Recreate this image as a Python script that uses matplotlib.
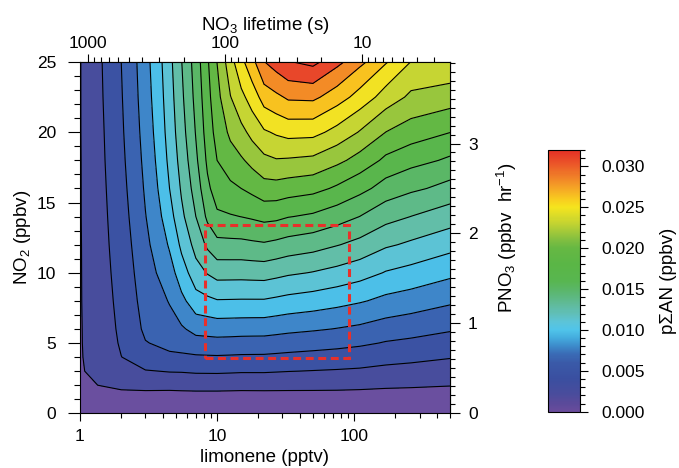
import numpy as np
import matplotlib
matplotlib.use("Agg")
import matplotlib.pyplot as plt
from matplotlib.colors import LinearSegmentedColormap, Normalize
from matplotlib.ticker import MultipleLocator, FixedLocator, NullFormatter, FuncFormatter
from matplotlib.patches import Rectangle
import matplotlib.cm as cm

plt.rcParams['font.family'] = ['Liberation Sans', 'DejaVu Sans']
plt.rcParams['mathtext.fontset'] = 'custom'
plt.rcParams['mathtext.rm'] = 'Liberation Sans'
plt.rcParams['mathtext.it'] = 'Liberation Sans:italic'
plt.rcParams['mathtext.bf'] = 'Liberation Sans:bold'
plt.rcParams['mathtext.default'] = 'regular'

# ---------------- data ----------------
limonene_pptv = [1, 1.5, 2, 3, 4.5, 5.5, 7, 8.5, 10, 12.5, 15, 18, 22, 27, 33, 50, 75,
                 110, 170, 260, 500]
no2_ppbv = [0, 1, 2, 3, 4, 5, 6, 8, 10, 12, 14, 16, 18, 20, 22.5, 25]

# pSigmaAN in pptv, one list per limonene column (rows follow no2_ppbv)
psan_L1 = [0, 0.75, 1.42, 1.49, 1.51, 1.52, 1.52, 1.53, 1.53, 1.53, 1.54, 1.54, 1.54, 1.55, 1.55, 1.55]
psan_L1_5 = [0, 0.80, 1.68, 2.16, 2.40, 2.51, 2.59, 2.70, 2.80, 2.90, 2.98, 3.06, 3.14, 3.20, 3.30, 3.38]
psan_L2 = [0, 0.88, 1.95, 2.75, 3.18, 3.39, 3.52, 3.71, 3.89, 4.05, 4.21, 4.35, 4.48, 4.59, 4.70, 4.80]
psan_L3 = [0, 0.88, 2.05, 3.12, 4.08, 4.72, 5.12, 5.47, 5.76, 6.05, 6.34, 6.61, 6.85, 7.07, 7.30, 7.47]
psan_L4_5 = [0, 0.83, 2.05, 3.28, 4.45, 5.30, 5.80, 6.50, 7.35, 8.20, 9.00, 9.60, 10.00, 10.30, 10.55, 10.77]
psan_L5_5 = [0, 0.84, 2.10, 3.30, 4.50, 5.50, 6.20, 7.60, 8.85, 9.95, 10.85, 11.40, 11.85, 12.20, 12.50, 12.75]
psan_L7 = [0, 0.85, 2.14, 3.39, 4.61, 5.76, 6.93, 8.95, 10.55, 11.80, 12.80, 13.55, 14.10, 14.50, 14.90, 15.20]
psan_L8_5 = [0, 0.85, 2.14, 3.40, 4.64, 5.85, 7.00, 9.25, 11.30, 13.10, 14.75, 15.65, 16.30, 16.75, 17.10, 17.40]
psan_L10 = [0, 0.85, 2.14, 3.41, 4.66, 5.90, 7.10, 9.50, 11.80, 13.95, 15.70, 16.85, 17.60, 18.20, 18.75, 19.22]
psan_L12_5 = [0, 0.84, 2.11, 3.37, 4.62, 5.86, 7.07, 9.48, 11.79, 13.97, 15.88, 17.26, 18.47, 19.53, 20.74, 21.82]
psan_L15 = [0, 0.83, 2.08, 3.33, 4.58, 5.81, 7.04, 9.46, 11.78, 13.98, 16.02, 17.60, 19.00, 20.35, 22.00, 23.58]
psan_L18 = [0, 0.83, 2.09, 3.33, 4.57, 5.80, 7.02, 9.46, 11.82, 14.10, 16.20, 18.00, 19.68, 21.28, 23.13, 25.10]
psan_L22 = [0, 0.83, 2.10, 3.33, 4.56, 5.79, 7.01, 9.46, 11.86, 14.21, 16.45, 18.55, 20.40, 22.20, 24.70, 27.15]
psan_L27 = [0, 0.84, 2.08, 3.28, 4.49, 5.69, 6.88, 9.28, 11.65, 14.00, 16.35, 18.56, 20.69, 22.60, 25.26, 27.95]
psan_L33 = [0, 0.85, 2.06, 3.23, 4.42, 5.58, 6.75, 9.09, 11.42, 13.74, 16.06, 18.35, 20.62, 22.91, 25.84, 28.72]
psan_L50 = [0, 0.88, 2.03, 3.15, 4.29, 5.42, 6.56, 8.83, 11.12, 13.41, 15.73, 18.06, 20.42, 22.85, 25.92, 29.20]
psan_L75 = [0, 0.88, 2.00, 3.07, 4.16, 5.25, 6.34, 8.50, 10.69, 12.88, 15.09, 17.33, 19.57, 21.84, 24.70, 27.62]
psan_L110 = [0, 0.86, 1.94, 2.98, 4.00, 5.04, 6.08, 8.14, 10.22, 12.29, 14.38, 16.46, 18.56, 20.67, 23.33, 25.98]
psan_L170 = [0, 0.85, 1.82, 2.78, 3.74, 4.69, 5.65, 7.57, 9.49, 11.41, 13.34, 15.28, 17.22, 19.18, 21.63, 24.13]
psan_L260 = [0, 0.85, 1.76, 2.67, 3.57, 4.48, 5.39, 7.23, 9.07, 10.91, 12.78, 14.67, 16.50, 18.40, 20.45, 22.35]
psan_L500 = [0, 0.80, 1.65, 2.48, 3.28, 4.10, 4.96, 6.64, 8.35, 10.13, 11.95, 13.84, 15.71, 17.62, 19.95, 22.10]

# contour levels (ppbv) and colorbar ticks
contour_levels = list(np.round(np.arange(0, 21) * 0.0016, 4))
cbar_ticks = [0.000, 0.005, 0.010, 0.015, 0.020, 0.025, 0.030]
cbar_max = 0.032

# axis conversions
TAU_AT_1PPTV = 1140.0        # NO3 lifetime (s) at 1 pptv limonene
PNO3_PER_NO2 = 1.0 / 6.4     # ppbv/hr per ppbv NO2

# red box (observed limonene / NO2 range)
box_limonene = [8.2, 92]
box_no2 = [3.9, 13.4]

# ---------------- styling ----------------
band_colors = ['#6a4f9f', '#484d9d', '#3b52a3', '#3a63b1', '#3e86c9',
               '#4cbfe8', '#5cc3d5', '#62bea8', '#5eba88', '#5ab766',
               '#59b64c', '#63b844', '#98c63d', '#c6d533', '#f2e223',
               '#f8c21f', '#f38b26', '#e8472a', '#e63c2a', '#e5302a']

cb_anchor_vals = [0, .001, .002, .004, .006, .007, .008, .009, .010, .011, .012,
                  .013, .014, .015, .016, .018, .020, .021, .022, .023, .024,
                  .025, .026, .027, .028, .029, .030, .031, .032]
cb_anchor_cols = ['#6a4c9c', '#5a4a9a', '#4a4c9c', '#3a4fa0', '#3a5aa8', '#3a6cb6',
                  '#3d8ccb', '#44acde', '#50c4ea', '#5cc4d8', '#60bfb8', '#60bb9c',
                  '#5db880', '#5ab666', '#58b650', '#5ab646', '#66b843', '#80be40',
                  '#a0c83a', '#c0d232', '#dcdc28', '#f5e41e', '#f8cc1f', '#f6b024',
                  '#f39527', '#ef7a28', '#ec5e29', '#e84628', '#e53025']
cb_cmap = LinearSegmentedColormap.from_list(
    'cb', list(zip([v / cbar_max for v in cb_anchor_vals], cb_anchor_cols)))

FS_TICK = 12.5
FS_LABEL = 13.5

# ---------------- figure ----------------
fig = plt.figure(figsize=(6.79, 4.68), dpi=100)
ax = fig.add_axes([80 / 679, 1 - 413.3 / 468, 370 / 679, 351.3 / 468])

L = np.array(limonene_pptv, dtype=float)
N = np.array(no2_ppbv, dtype=float)
Z = np.column_stack([psan_L1, psan_L1_5, psan_L2, psan_L3, psan_L4_5, psan_L5_5,
                     psan_L7, psan_L8_5, psan_L10, psan_L12_5, psan_L15, psan_L18,
                     psan_L22, psan_L27, psan_L33, psan_L50, psan_L75, psan_L110,
                     psan_L170, psan_L260, psan_L500]) / 1000.0

ax.contourf(L, N, Z, levels=contour_levels, colors=band_colors, antialiased=True)
ax.contourf(L, N, Z, levels=contour_levels, colors=band_colors, antialiased=False)
ax.contour(L, N, Z, levels=contour_levels[1:-1], colors='k', linewidths=0.8)

ax.set_xscale('log')
ax.set_xlim(1, 500)
ax.set_ylim(0, 25)

ax.add_patch(Rectangle((box_limonene[0], box_no2[0]),
                       box_limonene[1] - box_limonene[0], box_no2[1] - box_no2[0],
                       fill=False, edgecolor='#e8302a', linewidth=2.2,
                       linestyle=(0, (2.6, 1.5)), zorder=5))

# bottom / left axes
ax.xaxis.set_major_locator(FixedLocator([1, 10, 100]))
ax.xaxis.set_major_formatter(FuncFormatter(lambda v, p: f"{v:g}"))
ax.xaxis.set_minor_formatter(NullFormatter())
ax.yaxis.set_major_locator(MultipleLocator(5))
ax.yaxis.set_minor_locator(MultipleLocator(1))
ax.tick_params(which='both', direction='out', labelsize=FS_TICK, width=0.8)
ax.tick_params(axis='x', which='major', length=6, pad=5)
ax.tick_params(axis='x', which='minor', length=3.5)
ax.tick_params(axis='y', which='major', length=8.5, pad=8.5)
ax.tick_params(axis='y', which='minor', length=4)
ax.set_xlabel('limonene (pptv)', fontsize=FS_LABEL, labelpad=4)
ax.set_ylabel('NO$_2$ (ppbv)', fontsize=FS_LABEL, labelpad=3)
for s in ax.spines.values():
    s.set_linewidth(0.8)


def l2t(x):
    x = np.clip(np.asarray(x, dtype=float), 1e-9, None)
    return TAU_AT_1PPTV / x


def n2p(n):
    return np.asarray(n, dtype=float) * PNO3_PER_NO2


def p2n(p):
    return np.asarray(p, dtype=float) / PNO3_PER_NO2


top = ax.secondary_xaxis('top', functions=(l2t, l2t))
top.xaxis.set_major_locator(FixedLocator([10, 100, 1000]))
top.xaxis.set_major_formatter(FuncFormatter(lambda v, p: f"{v:g}"))
top.xaxis.set_minor_formatter(NullFormatter())
top.tick_params(which='both', direction='out', labelsize=FS_TICK, width=0.8)
top.tick_params(which='major', length=6, pad=2)
top.tick_params(which='minor', length=3.5)
top.set_xlabel('NO$_3$ lifetime (s)', fontsize=FS_LABEL, labelpad=4)

right = ax.secondary_yaxis('right', functions=(n2p, p2n))
right.yaxis.set_major_locator(FixedLocator([0, 1, 2, 3]))
right.yaxis.set_minor_locator(MultipleLocator(0.1))
right.tick_params(which='both', direction='out', labelsize=FS_TICK, width=0.8)
right.tick_params(which='major', length=7, pad=6)
right.tick_params(which='minor', length=3.5)
right.set_ylabel('PNO$_3$ (ppbv  hr$^{-1}$)', fontsize=FS_LABEL, labelpad=12.5)

# colorbar
cax = fig.add_axes([548.3 / 679, 1 - 411.7 / 468, 31.7 / 679, 261.7 / 468])
sm = cm.ScalarMappable(norm=Normalize(0, cbar_max), cmap=cb_cmap)
cb = fig.colorbar(sm, cax=cax)
cb.set_ticks(cbar_ticks)
cb.ax.yaxis.set_major_formatter(FuncFormatter(lambda v, p: f"{v:.3f}"))
cb.ax.yaxis.set_minor_locator(MultipleLocator(0.001))
cb.ax.tick_params(which='both', direction='out', labelsize=FS_TICK, width=0.8)
cb.ax.tick_params(which='major', length=6, pad=9.5)
cb.ax.tick_params(which='minor', length=3.5)
cb.outline.set_linewidth(0.8)
cb.set_label('p\u03a3AN (ppbv)', fontsize=FS_LABEL, labelpad=11)

fig.savefig('out.png', dpi=100)
